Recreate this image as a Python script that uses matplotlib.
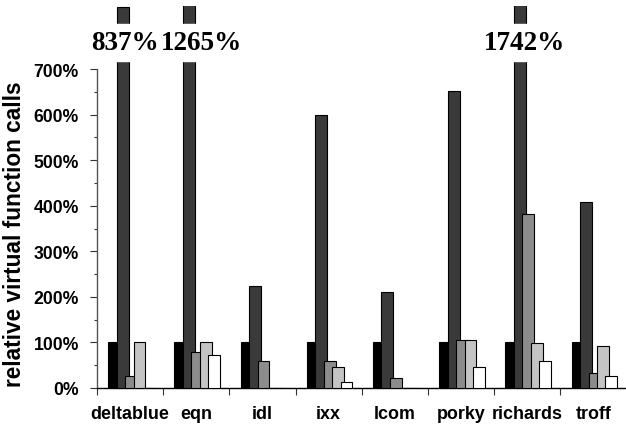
import matplotlib
matplotlib.use("Agg")
import matplotlib.pyplot as plt
import numpy as np

benchmarks = ["deltablue", "eqn", "idl", "ixx", "lcom", "porky", "richards", "troff"]
series1 = [100, 100, 100, 100, 100, 100, 100, 100]          # black
series2 = [837, 1265, 224, 600, 211, 652, 1742, 409]       # dark gray
series3 = [26, 80, 60, 60, 21, 105, 381, 32]               # mid gray
series4 = [100, 100, 0, 45, 0, 105, 99, 93]                # light gray
series5 = [0, 73, 0, 13, 0, 46, 59, 26]                    # white
yticks = [0, 100, 200, 300, 400, 500, 600, 700]
ytick_labels = ["0%", "100%", "200%", "300%", "400%", "500%", "600%", "700%"]
ylabel = "relative virtual function calls"

all_series = [series1, series2, series3, series4, series5]
colors = ["#000000", "#3a3a3a", "#8c8c8c", "#c4c4c4", "#ffffff"]

W, H = 626, 427
fig = plt.figure(figsize=(W / 100, H / 100), dpi=100)
x0, x1 = 97, 626.6
y0, ytop = 389, 6.7
ax = fig.add_axes([x0 / W, (H - y0) / H, (x1 - x0) / W, (y0 - ytop) / H])

sans = "Liberation Sans"
serif = "Liberation Serif"

n = len(benchmarks)
centers = np.arange(n) + 0.5
step = 0.127
width = 0.181
shift = 0.015
for k, (vals, c) in enumerate(zip(all_series, colors)):
    ax.bar(centers + (k - 2) * step + shift, vals, width=width, color=c,
           edgecolor="black", linewidth=0.8, zorder=2 + k, clip_on=True)

ax.set_xlim(0, n)
ax.set_ylim(0, 839)

# break band for off-scale bars
ax.axhspan(718, 799, color="white", zorder=10)
offsets_px = [2, 13, 5]
k_off = 0
for i, v in enumerate(series2):
    if v > 700:
        ax.annotate(f"{v}%", xy=(centers[i] - 1 * step + shift, 758),
                    xytext=(offsets_px[k_off] * 0.72, 0), textcoords="offset points",
                    ha="center", va="center", fontsize=19.5, fontweight="bold",
                    family=serif, zorder=11)
        k_off += 1

for s in ["top", "right"]:
    ax.spines[s].set_visible(False)
ax.spines["left"].set_bounds(0, 700)
ax.spines["left"].set_color("#555555")
ax.spines["left"].set_linewidth(1.0)
ax.spines["bottom"].set_color("black")
ax.spines["bottom"].set_linewidth(1.0)

ax.set_yticks(yticks)
ax.set_yticklabels(ytick_labels, fontsize=12.7, fontweight="bold", family=sans)
ax.set_yticks(np.arange(50, 700, 100), minor=True)
ax.tick_params(axis="y", which="major", length=5, width=0.8, color="#333333", pad=8, direction="out")
ax.tick_params(axis="y", which="minor", length=2, width=0.8, color="#333333", direction="out")

ax.set_xticks(np.arange(0, n + 1))
ax.set_xticklabels([])
ax.tick_params(axis="x", which="major", length=5, width=0.8, color="#333333", direction="out")
ax.set_xticks(centers, minor=True)
ax.set_xticklabels(benchmarks, minor=True, fontsize=12.9, fontweight="bold", family=sans)
ax.tick_params(axis="x", which="minor", length=0, pad=12)

fig.text(15 / W, (H - 234) / H, ylabel, rotation=90, ha="center", va="center",
         fontsize=16.3, fontweight="bold", family=sans)

fig.savefig("out.png", dpi=100)
